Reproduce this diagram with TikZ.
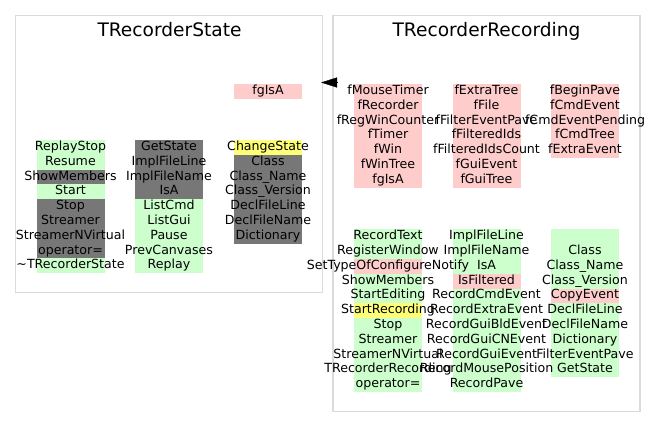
\documentclass[tikz,border=0pt]{standalone}
\usepackage{fontspec}
\setmainfont{DejaVu Sans}
\usetikzlibrary{arrows.meta}
\definecolor{grn}{HTML}{CCFFCC}
\definecolor{pnk}{HTML}{FFCCCC}
\definecolor{gry}{HTML}{777777}
\definecolor{ylw}{HTML}{FFFF77}
\definecolor{frm}{HTML}{DADADA}
\pgfdeclarelayer{bg}
\pgfsetlayers{bg,main}
\tikzset{
  cell/.style={inner sep=0pt, minimum width=68pt, minimum height=14.8pt,
    text height=9.6pt, text depth=3.6pt, font=\fontsize{12.6pt}{14.8pt}\selectfont},
  frame/.style={draw=frm, line width=1.6pt},
  title/.style={anchor=base, font=\fontsize{18.6pt}{21pt}\selectfont},
  inh/.style={-{Triangle[length=16pt,width=10pt]}, black}
}
\newcommand\cellcolumn[4]{%
  \foreach \t/\c [count=\i] in {#4} {%
    \begin{pgfonlayer}{bg}
      \fill[\c] ({#2-34}, {#3+(\i-1)*14.8}) rectangle ({#2+34}, {#3+\i*14.8});
    \end{pgfonlayer}
    \node[cell] (#1\i) at (#2, {#3+(\i-0.5)*14.8}) {\makebox[68pt]{\t}};
  }%
}
\begin{document}
\begin{tikzpicture}[x=1pt, y=-1pt]
\useasboundingbox (0,0) rectangle (656,439);
\draw[frame] (15.5,15.5) rectangle (322.5,292.5);
\draw[frame] (333,15.5) rectangle (640,411.5);
\node[title] (lsT) at (169.5,36) {TRecorderState};
\node[title] (rrT) at (486.5,36) {TRecorderRecording};
% TRecorderState
\cellcolumn{lf}{268}{84}{fgIsA/pnk}
\cellcolumn{la}{70.5}{140}{ReplayStop/grn, Resume/grn, ShowMembers/gry, Start/grn, Stop/gry, Streamer/gry, StreamerNVirtual/gry, operator=/gry, \textasciitilde TRecorderState/grn}
\cellcolumn{lb}{169}{140}{GetState/gry, ImplFileLine/gry, ImplFileName/gry, IsA/gry, ListCmd/grn, ListGui/grn, Pause/grn, PrevCanvases/grn, Replay/grn}
\cellcolumn{lc}{268}{140}{ChangeState/ylw, Class/gry, Class\_Name/gry, Class\_Version/gry, DeclFileLine/gry, DeclFileName/gry, Dictionary/gry}
% TRecorderRecording
\cellcolumn{ra}{388}{84}{fMouseTimer/pnk, fRecorder/pnk, fRegWinCounter/pnk, fTimer/pnk, fWin/pnk, fWinTree/pnk, fgIsA/pnk}
\cellcolumn{rb}{486.5}{84}{fExtraTree/pnk, fFile/pnk, fFilterEventPave/pnk, fFilteredIds/pnk, fFilteredIdsCount/pnk, fGuiEvent/pnk, fGuiTree/pnk}
\cellcolumn{rc}{585}{84}{fBeginPave/pnk, fCmdEvent/pnk, fCmdEventPending/pnk, fCmdTree/pnk, fExtraEvent/pnk}
\cellcolumn{rd}{388}{229.3}{RecordText/grn, RegisterWindow/grn, SetTypeOfConfigureNotify/pnk, ShowMembers/grn, StartEditing/grn, StartRecording/ylw, Stop/grn, Streamer/grn, StreamerNVirtual/grn, TRecorderRecording/grn, operator=/grn}
\cellcolumn{re}{486.5}{229.3}{ImplFileLine/grn, ImplFileName/grn, IsA/grn, IsFiltered/pnk, RecordCmdEvent/grn, RecordExtraEvent/grn, RecordGuiBldEvent/grn, RecordGuiCNEvent/grn, RecordGuiEvent/grn, RecordMousePosition/grn, RecordPave/grn}
\cellcolumn{rf}{585}{229.3}{/grn, Class/grn, Class\_Name/grn, Class\_Version/grn, CopyEvent/pnk, DeclFileLine/grn, DeclFileName/grn, Dictionary/grn, FilterEventPave/grn, GetState/grn}
% inheritance arrow
\coordinate (arrS) at (337,82.5);
\coordinate (arrE) at (321,82.5);
\draw[inh] (arrS) -- (arrE);
\end{tikzpicture}
\end{document}
